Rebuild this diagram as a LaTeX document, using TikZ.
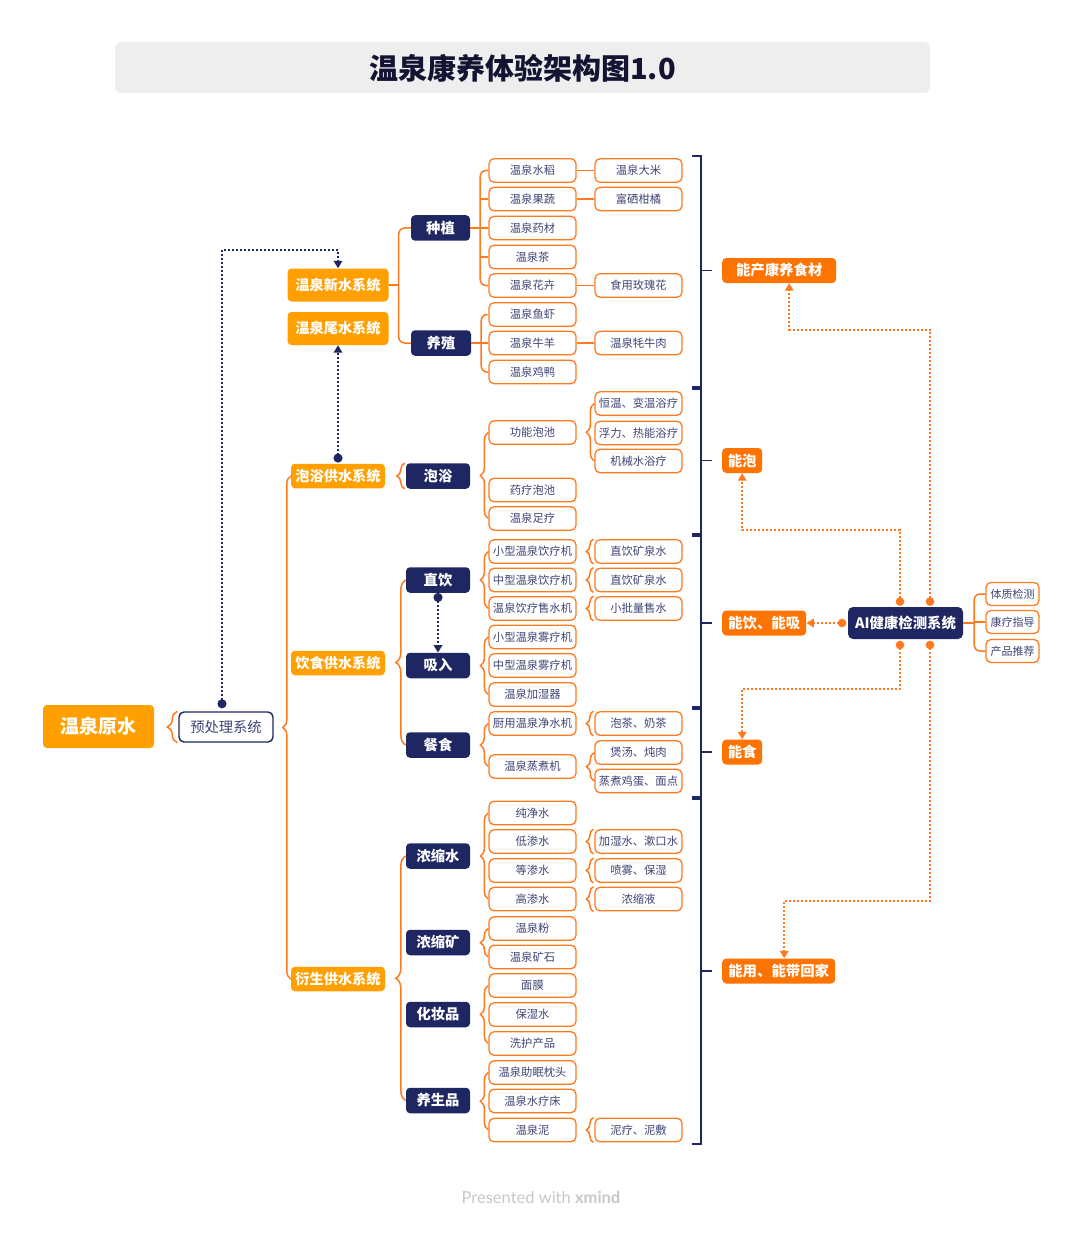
\documentclass[tikz,border=0pt]{standalone}
\usepackage{fontspec}
\setmainfont{Noto Sans CJK SC}
\newfontfamily\footfont{Lato}
\usetikzlibrary{arrows.meta,calc,decorations.pathreplacing}
\definecolor{navy}{HTML}{1E2761}
\definecolor{amber}{HTML}{FFA000}
\definecolor{deepor}{HTML}{FF7300}
\definecolor{lineor}{HTML}{FF7A1F}
\definecolor{leaftext}{HTML}{3F4575}
\definecolor{titlebg}{HTML}{EEEEEE}
\definecolor{titletext}{HTML}{141432}
\definecolor{foot}{HTML}{C8C8C8}
\tikzset{
 leaf/.style={draw=lineor, line width=1.3pt, fill=white, rounded corners=5pt, minimum width=87pt, minimum height=23.5pt, inner sep=0pt, text=leaftext, font=\fontsize{11.3}{13}\selectfont},
 small/.style={leaf, minimum width=53pt, minimum height=23pt, font=\fontsize{11}{13}\selectfont},
 cat/.style={fill=navy, rounded corners=4pt, minimum width=64pt, minimum height=25.5pt, inner sep=0pt, text=white, font=\bfseries\fontsize{14.3}{16}\selectfont},
 sys/.style={fill=amber, rounded corners=4pt, minimum width=94pt, minimum height=24.5pt, inner sep=0pt, text=white, font=\bfseries\fontsize{14.2}{16}\selectfont},
 summ/.style={fill=deepor, rounded corners=4pt, minimum height=25pt, inner sep=0pt, anchor=west, text=white, font=\bfseries\fontsize{14.4}{16}\selectfont},
 conn/.style={draw=lineor, line width=1.5pt},
 brc/.style={draw=lineor, line width=1.5pt, decorate, decoration={brace, amplitude=#1}},
 brc/.default=8pt,
 navyline/.style={draw=navy, line width=1.5pt},
 navydot/.style={draw=navy, line width=2pt, dash pattern=on 2pt off 2pt, {Circle[length=9pt]}-{Triangle[width=8.5pt,length=7.5pt]}},
 ordot/.style={draw=lineor, line width=2pt, dash pattern=on 2pt off 2pt, {Circle[length=8.5pt]}-{Triangle[width=8.5pt,length=7.5pt]}},
}
\begin{document}
\begin{tikzpicture}[x=1pt,y=-1pt]
\fill[white] (0,0) rectangle (1080,1241);
\useasboundingbox (0,0) rectangle (1080,1241);

% title
\node[fill=titlebg, rounded corners=6pt, minimum width=815pt, minimum height=51pt, inner sep=0pt] (title) at (522.5,67.5) {};
\node[text=titletext, font=\bfseries\fontsize{29}{32}\selectfont, inner sep=0pt] (titletxt) at (522.5,68.5) {温泉康养体验架构图1.0};

% root and pre-treatment
\node[sys, minimum width=111pt, minimum height=43pt, font=\bfseries\fontsize{19}{22}\selectfont] (root) at (98.5,726.5) {温泉原水};
\node[draw=navy, line width=1.4pt, fill=white, rounded corners=5pt, minimum width=94pt, minimum height=30pt, inner sep=0pt, text=leaftext, font=\fontsize{14.3}{16}\selectfont] (pre) at (226,727) {预处理系统};

% systems
\node[sys, minimum width=101pt, minimum height=33pt] (new) at (338,285) {温泉新水系统};
\node[sys, minimum width=101pt, minimum height=33pt] (tail) at (338,328.5) {温泉尾水系统};
\node[sys] (paoyu) at (338,476) {泡浴供水系统};
\node[sys] (yinshi) at (338,663) {饮食供水系统};
\node[sys] (yansheng) at (338,979) {衍生供水系统};

% categories
\node[cat, minimum width=59pt] (zhongzhi) at (440.5,228) {种植};
\node[cat, minimum width=60pt] (yangzhi) at (441,343) {养殖};
\node[cat] (paoyu2) at (438,476) {泡浴};
\node[cat] (zhiyin) at (438,580) {直饮};
\node[cat] (xiru) at (438,665.5) {吸入};
\node[cat] (canshi) at (438,745) {餐食};
\node[cat] (nsw) at (438,856) {浓缩水};
\node[cat] (nsk) at (438,942.5) {浓缩矿};
\node[cat] (hzp) at (438,1014.5) {化妆品};
\node[cat] (ysp) at (438,1100.5) {养生品};

% leaves
\foreach \n/\y/\t in {a1/170.5/温泉水稻, a2/199/温泉果蔬, a3/228/温泉药材, a4/257/温泉茶, a5/285.5/温泉花卉, a6/314.5/温泉鱼虾, a7/343/温泉牛羊, a8/372/温泉鸡鸭,
 b1/432.5/功能泡池, b2/490/药疗泡池, b3/518.5/温泉足疗,
 c1/551.5/小型温泉饮疗机, c2/580/中型温泉饮疗机, c3/608.5/温泉饮疗售水机, c4/637/小型温泉雾疗机, c5/665.5/中型温泉雾疗机, c6/694.5/温泉加湿器, c7/723.5/厨用温泉净水机, c8/766.5/温泉蒸煮机,
 d1/813/纯净水, d2/841.5/低渗水, d3/870.5/等渗水, d4/899/高渗水, d5/928.5/温泉粉, d6/957/温泉矿石, d7/985.5/面膜, d8/1014.5/保湿水, d9/1043.5/洗护产品, d10/1072.5/温泉助眠枕头, d11/1101/温泉水疗床, d12/1130/温泉泥}
 {\node[leaf] (\n) at (532.5,\y) {\t};}

\foreach \n/\y/\t in {e1/170.5/温泉大米, e2/199/富硒柑橘, e3/285.5/食用玫瑰花, e4/343/温泉牦牛肉,
 f1/403.5/恒温、变温浴疗, f2/433/浮力、热能浴疗, f3/461/机械水浴疗,
 g1/551.5/直饮矿泉水, g2/580/直饮矿泉水, g3/608.5/小批量售水, g4/723.5/泡茶、奶茶, g5/752.5/煲汤、炖肉, g6/781/蒸煮鸡蛋、面点,
 h1/841.5/加湿水、漱口水, h2/870.5/喷雾、保湿, h3/899/浓缩液, h4/1130/泥疗、泥敷}
 {\node[leaf] (\n) at (638.5,\y) {\t};}

% summaries
\node[summ, minimum width=114pt] (s1) at (722,270.5) {能产康养食材};
\node[summ, minimum width=40pt] (s2) at (722,460.5) {能泡};
\node[summ, minimum width=84pt] (s3) at (722,623) {能饮、能吸};
\node[summ, minimum width=40pt] (s4) at (722,752) {能食};
\node[summ, minimum width=113pt] (s5) at (722,971) {能用、能带回家};

% AI system
\node[fill=navy, rounded corners=5pt, minimum width=115pt, minimum height=32pt, inner sep=0pt, text=white, font=\bfseries\fontsize{14.4}{16}\selectfont] (ai) at (905.5,623) {AI健康检测系统};
\node[small] (k1) at (1012.5,594) {体质检测};
\node[small] (k2) at (1012.5,622) {康疗指导};
\node[small] (k3) at (1012.5,651) {产品推荐};

% ---------- connectors: braces ----------
\draw[brc=10pt] ([xshift=-1pt]pre.south west) -- ([xshift=-1pt]pre.north west);
\draw[brc=8pt] (yansheng.west) -- (paoyu.west);
\draw[brc=8pt] ([xshift=-1pt]paoyu2.south west) -- ([xshift=-1pt]paoyu2.north west);
\draw[brc=10pt] (canshi.west) -- (zhiyin.west);
\draw[brc=10pt] (ysp.west) -- (nsw.west);
\draw[brc=8pt] (b3.west) -- (b1.west);
\draw[brc=8pt] (f3.west) -- (f1.west);
\draw[brc=8pt] (c3.west) -- (c1.west);
\draw[brc=8pt] (c6.west) -- (c4.west);
\draw[brc=8pt] (c8.west) -- (c7.west);
\draw[brc=8pt] (g6.west) -- (g5.west);
\draw[brc=8pt] (d4.west) -- (d1.west);
\draw[brc=8pt] (d6.west) -- (d5.west);
\draw[brc=8pt] (d9.west) -- (d7.west);
\draw[brc=8pt] (d12.west) -- (d10.west);
\foreach \n in {g1,g2,g3,g4,h1,h2,h3,h4}
 {\draw[brc=7pt] ([xshift=-1pt]\n.south west) -- ([xshift=-1pt]\n.north west);}

% ---------- connectors: forks ----------
\coordinate (j1) at ($(new.east)+(10,0)$);
\draw[conn] (new.east) -- (j1);
\draw[conn, rounded corners=6pt] (zhongzhi.west) -| (j1) |- (yangzhi.west);

\coordinate (j2) at ($(zhongzhi.east)+(10,0)$);
\draw[conn] (zhongzhi.east) -- (j2);
\draw[conn, rounded corners=6pt] (a1.west) -| (j2) |- (a5.west);
\foreach \n in {a2,a3,a4} {\draw[conn] (j2 |- \n.west) -- (\n.west);}

\coordinate (j3) at ($(yangzhi.east)+(10,0)$);
\draw[conn] (yangzhi.east) -- (j3);
\draw[conn, rounded corners=6pt] (a6.west) -| (j3) |- (a8.west);
\draw[conn] (j3 |- a7.west) -- (a7.west);

\coordinate (j4) at ($(ai.east)+(11,0)$);
\draw[conn] (ai.east) -- (j4);
\draw[conn, rounded corners=6pt] (k1.west) -| (j4) |- (k3.west);
\draw[conn] (j4 |- k2.west) -- (k2.west);

\draw[conn] (a1.east) -- (e1.west);
\draw[conn] (a2.east) -- (e2.west);
\draw[conn] (a5.east) -- (e3.west);
\draw[conn] (a7.east) -- (e4.west);

% ---------- summary brackets ----------
\foreach \ya/\yb/\ym in {156/387/270.5, 389/534/460.5, 536/707/623, 709/797/752, 799/1144/971}
 {\draw[navyline] (692,\ya) -| (701,\yb) -- (692,\yb);
  \draw[navyline] (701,\ym) -- (712,\ym);}

% ---------- dotted relations ----------
\draw[navydot] ($(pre.north)+(-4,-3)$) |- ($(new.north)+(0,-18)$) -- (new.north);
\draw[navydot] ($(paoyu.north)+(0,-1)$) -- (tail.south);
\draw[navydot] (zhiyin.south) -- (xiru.north);

\draw[ordot] ($(ai.north)+(24.5,-1)$) |- ($(s1.south)+(10,46.5)$) -- ($(s1.south)+(10,0)$);
\draw[ordot] ($(ai.north)+(-5.5,-1)$) |- ($(s2.south)+(0,57)$) -- (s2.south);
\draw[ordot] ($(ai.west)+(-1.5,0)$) -- (s3.east);
\draw[ordot] ($(ai.south)+(-5.5,1.5)$) |- ($(s4.north)+(0,-50)$) -- (s4.north);
\draw[ordot] ($(ai.south)+(24.5,1.5)$) |- ($(s5.north)+(5.5,-57)$) -- ($(s5.north)+(5.5,0)$);

% footer
\node[text=foot, font=\footfont\fontsize{16.5}{18}\selectfont, inner sep=0pt] (footer) at (541,1197) {Presented with {\bfseries xmind}};
\end{tikzpicture}
\end{document}
